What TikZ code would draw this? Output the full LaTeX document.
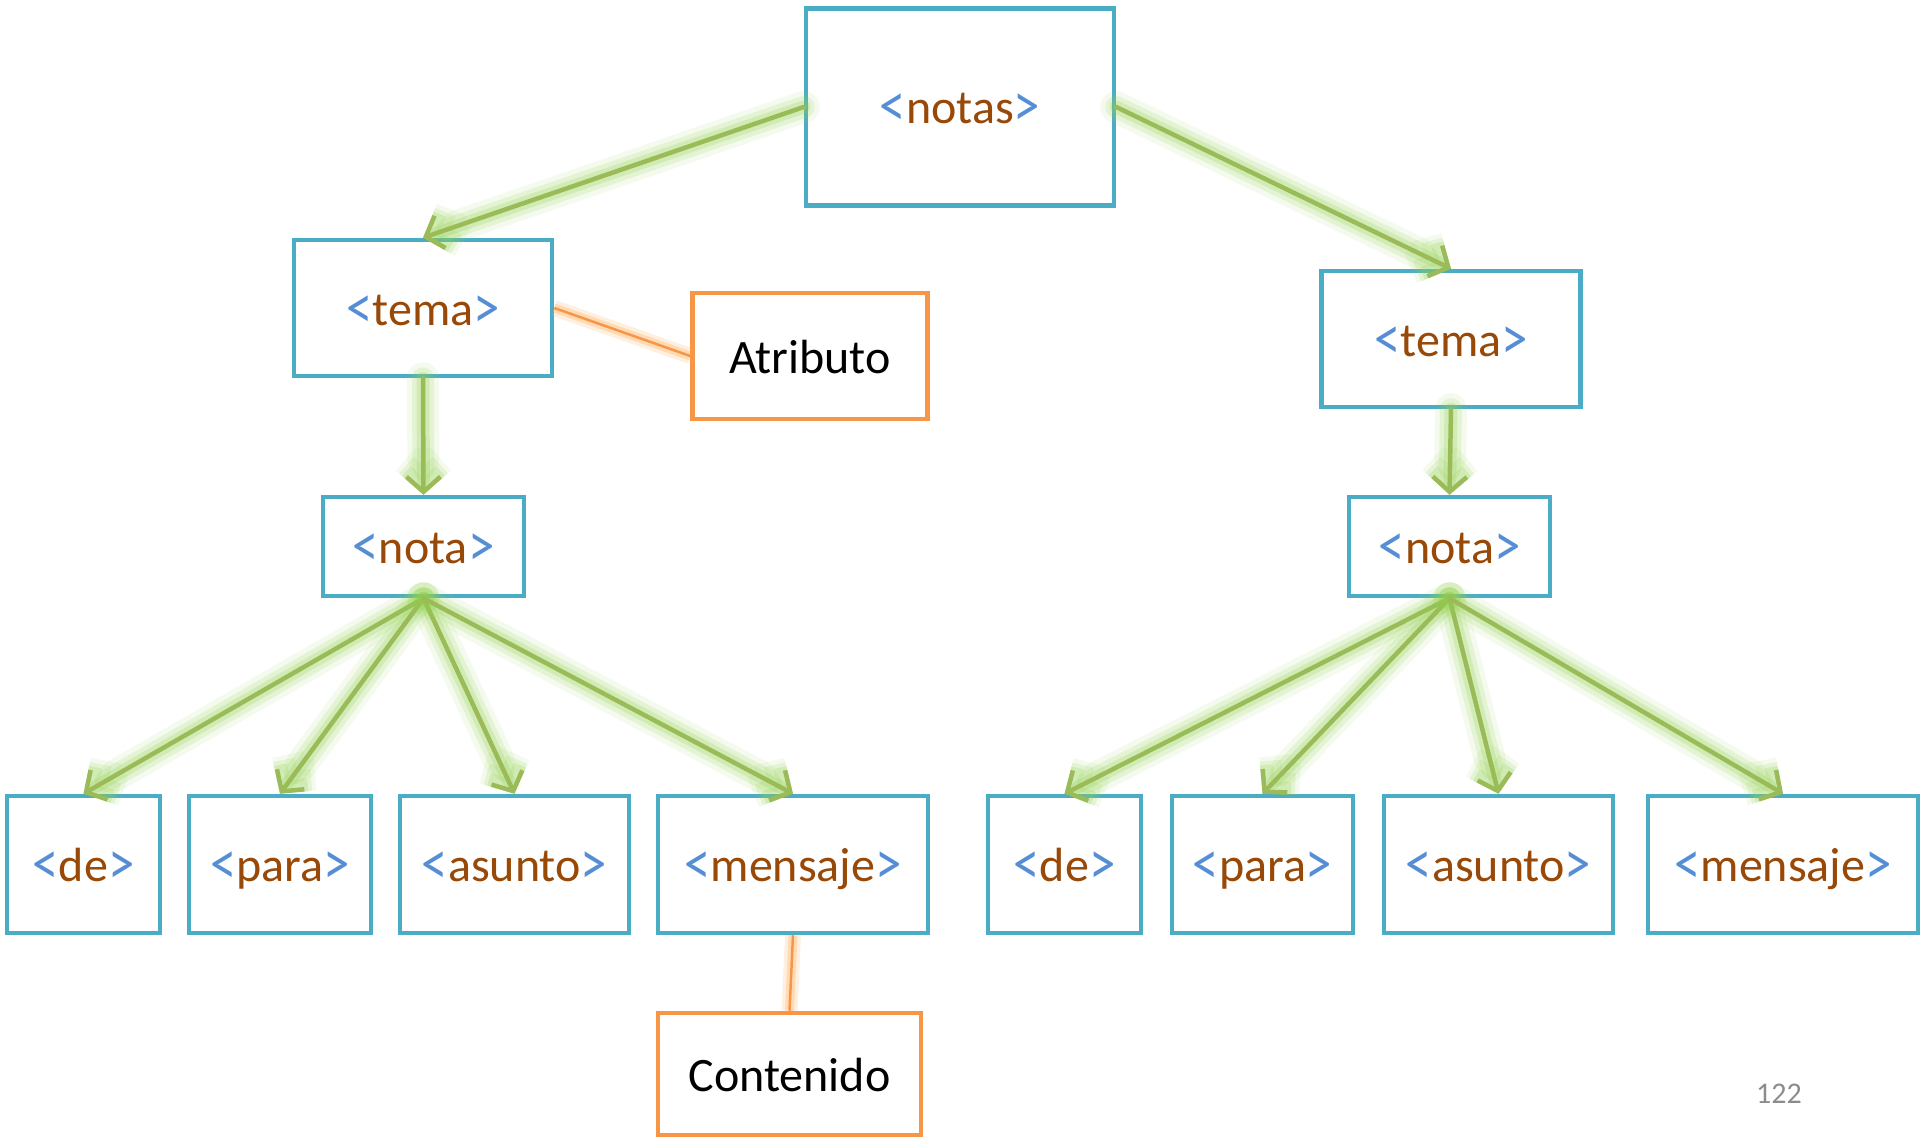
\documentclass[tikz,border=0pt]{standalone}
\usepackage{fontspec}
\setmainfont{Carlito}
\usetikzlibrary{arrows.meta}

\definecolor{boxblue}{HTML}{4BACC6}
\definecolor{boxorange}{HTML}{F79646}
\definecolor{linkgreen}{HTML}{9BBB59}
\definecolor{glowgreen}{HTML}{92D050}
\definecolor{glowor}{HTML}{FFA850}
\definecolor{brkblue}{HTML}{558ED5}
\definecolor{tagbrown}{HTML}{984807}
\definecolor{pagegray}{HTML}{8C8C8C}

% angle brackets drawn a little taller than the font's own
\newcommand\bigbrk[1]{\raisebox{-3pt}{\scalebox{1.1}[1.3]{#1}}}
\newcommand\xtag[1]{{\color{brkblue}\bigbrk{<}}{\color{tagbrown}#1}{\color{brkblue}\bigbrk{>}}}

\tikzset{
  tagbox/.style={draw=boxblue, line width=4.5pt, inner sep=0pt, rectangle,
    font=\fontsize{48}{56}\selectfont, text height=34pt, text depth=0pt},
  notebox/.style={draw=boxorange, line width=4.5pt, inner sep=0pt, rectangle,
    font=\fontsize{48}{56}\selectfont, text=black, text height=34pt, text depth=0pt},
  tiphead/.style={-{Straight Barb[length=15pt,width=34pt]}},
  child/.style={draw=linkgreen, line width=4.5pt, line cap=round, tiphead,
    preaction={draw=glowgreen, line width=32pt, opacity=0.10, line cap=round, tiphead},
    preaction={draw=glowgreen, line width=22pt, opacity=0.16, line cap=round, tiphead},
    preaction={draw=glowgreen, line width=13pt, opacity=0.24, line cap=round, tiphead}},
  annot/.style={draw=boxorange, line width=2.5pt,
    preaction={draw=glowor, line width=16pt, opacity=0.18},
    preaction={draw=glowor, line width=9pt, opacity=0.30}},
}

\begin{document}
\begin{tikzpicture}[x=1pt, y=-1pt]
  \useasboundingbox (0,0) rectangle (1920,1137);

  % element boxes
  \node[tagbox, minimum width=308pt, minimum height=197pt] (notas) at (960,107) {\xtag{notas}};
  \node[tagbox, minimum width=258pt, minimum height=136pt] (ltema) at (423,308) {\xtag{tema}};
  \node[tagbox, minimum width=259pt, minimum height=136pt] (rtema) at (1451,339) {\xtag{tema}};
  \node[tagbox, minimum width=201pt, minimum height=99pt] (lnota) at (423.5,546.5) {\xtag{nota}};
  \node[tagbox, minimum width=201pt, minimum height=99pt] (rnota) at (1449.5,546.5) {\xtag{nota}};

  \node[tagbox, minimum width=153pt, minimum height=137pt] (lde) at (83.5,864.5) {\xtag{de}};
  \node[tagbox, minimum width=182pt, minimum height=137pt] (lpara) at (280,864.5) {\xtag{para}};
  \node[tagbox, minimum width=229pt, minimum height=137pt] (lasunto) at (514.5,864.5) {\xtag{asunto}};
  \node[tagbox, minimum width=270pt, minimum height=137pt] (lmensaje) at (793,864.5) {\xtag{mensaje}};

  \node[tagbox, minimum width=153pt, minimum height=137pt] (rde) at (1064.5,864.5) {\xtag{de}};
  \node[tagbox, minimum width=181pt, minimum height=137pt] (rpara) at (1262.5,864.5) {\xtag{para}};
  \node[tagbox, minimum width=229pt, minimum height=137pt] (rasunto) at (1498.5,864.5) {\xtag{asunto}};
  \node[tagbox, minimum width=270pt, minimum height=137pt] (rmensaje) at (1783,864.5) {\xtag{mensaje}};

  % annotation boxes
  \node[notebox, minimum width=235pt, minimum height=126pt] (atrib) at (810,356) {Atributo};
  \node[notebox, minimum width=263pt, minimum height=122pt] (cont) at (789.5,1074) {Contenido};

  % parent-child links
  \draw[child] (notas.west) -- (ltema.north);
  \draw[child] (notas.east) -- (rtema.north);
  \draw[child] (ltema.south) -- (lnota.north);
  \draw[child] (rtema.south) -- (rnota.north);
  \foreach \c in {lde,lpara,lasunto,lmensaje}
    \draw[child] (lnota.south) -- (\c.north);
  \foreach \c in {rde,rpara,rasunto,rmensaje}
    \draw[child] (rnota.south) -- (\c.north);

  % annotation links
  \draw[annot] (ltema.east) -- (atrib.west);
  \draw[annot] (lmensaje.south) -- (cont.north);

  % page number
  \node[text=pagegray, font=\fontsize{30}{36}\selectfont] (pnum) at (1779,1094) {122};
\end{tikzpicture}
\end{document}
